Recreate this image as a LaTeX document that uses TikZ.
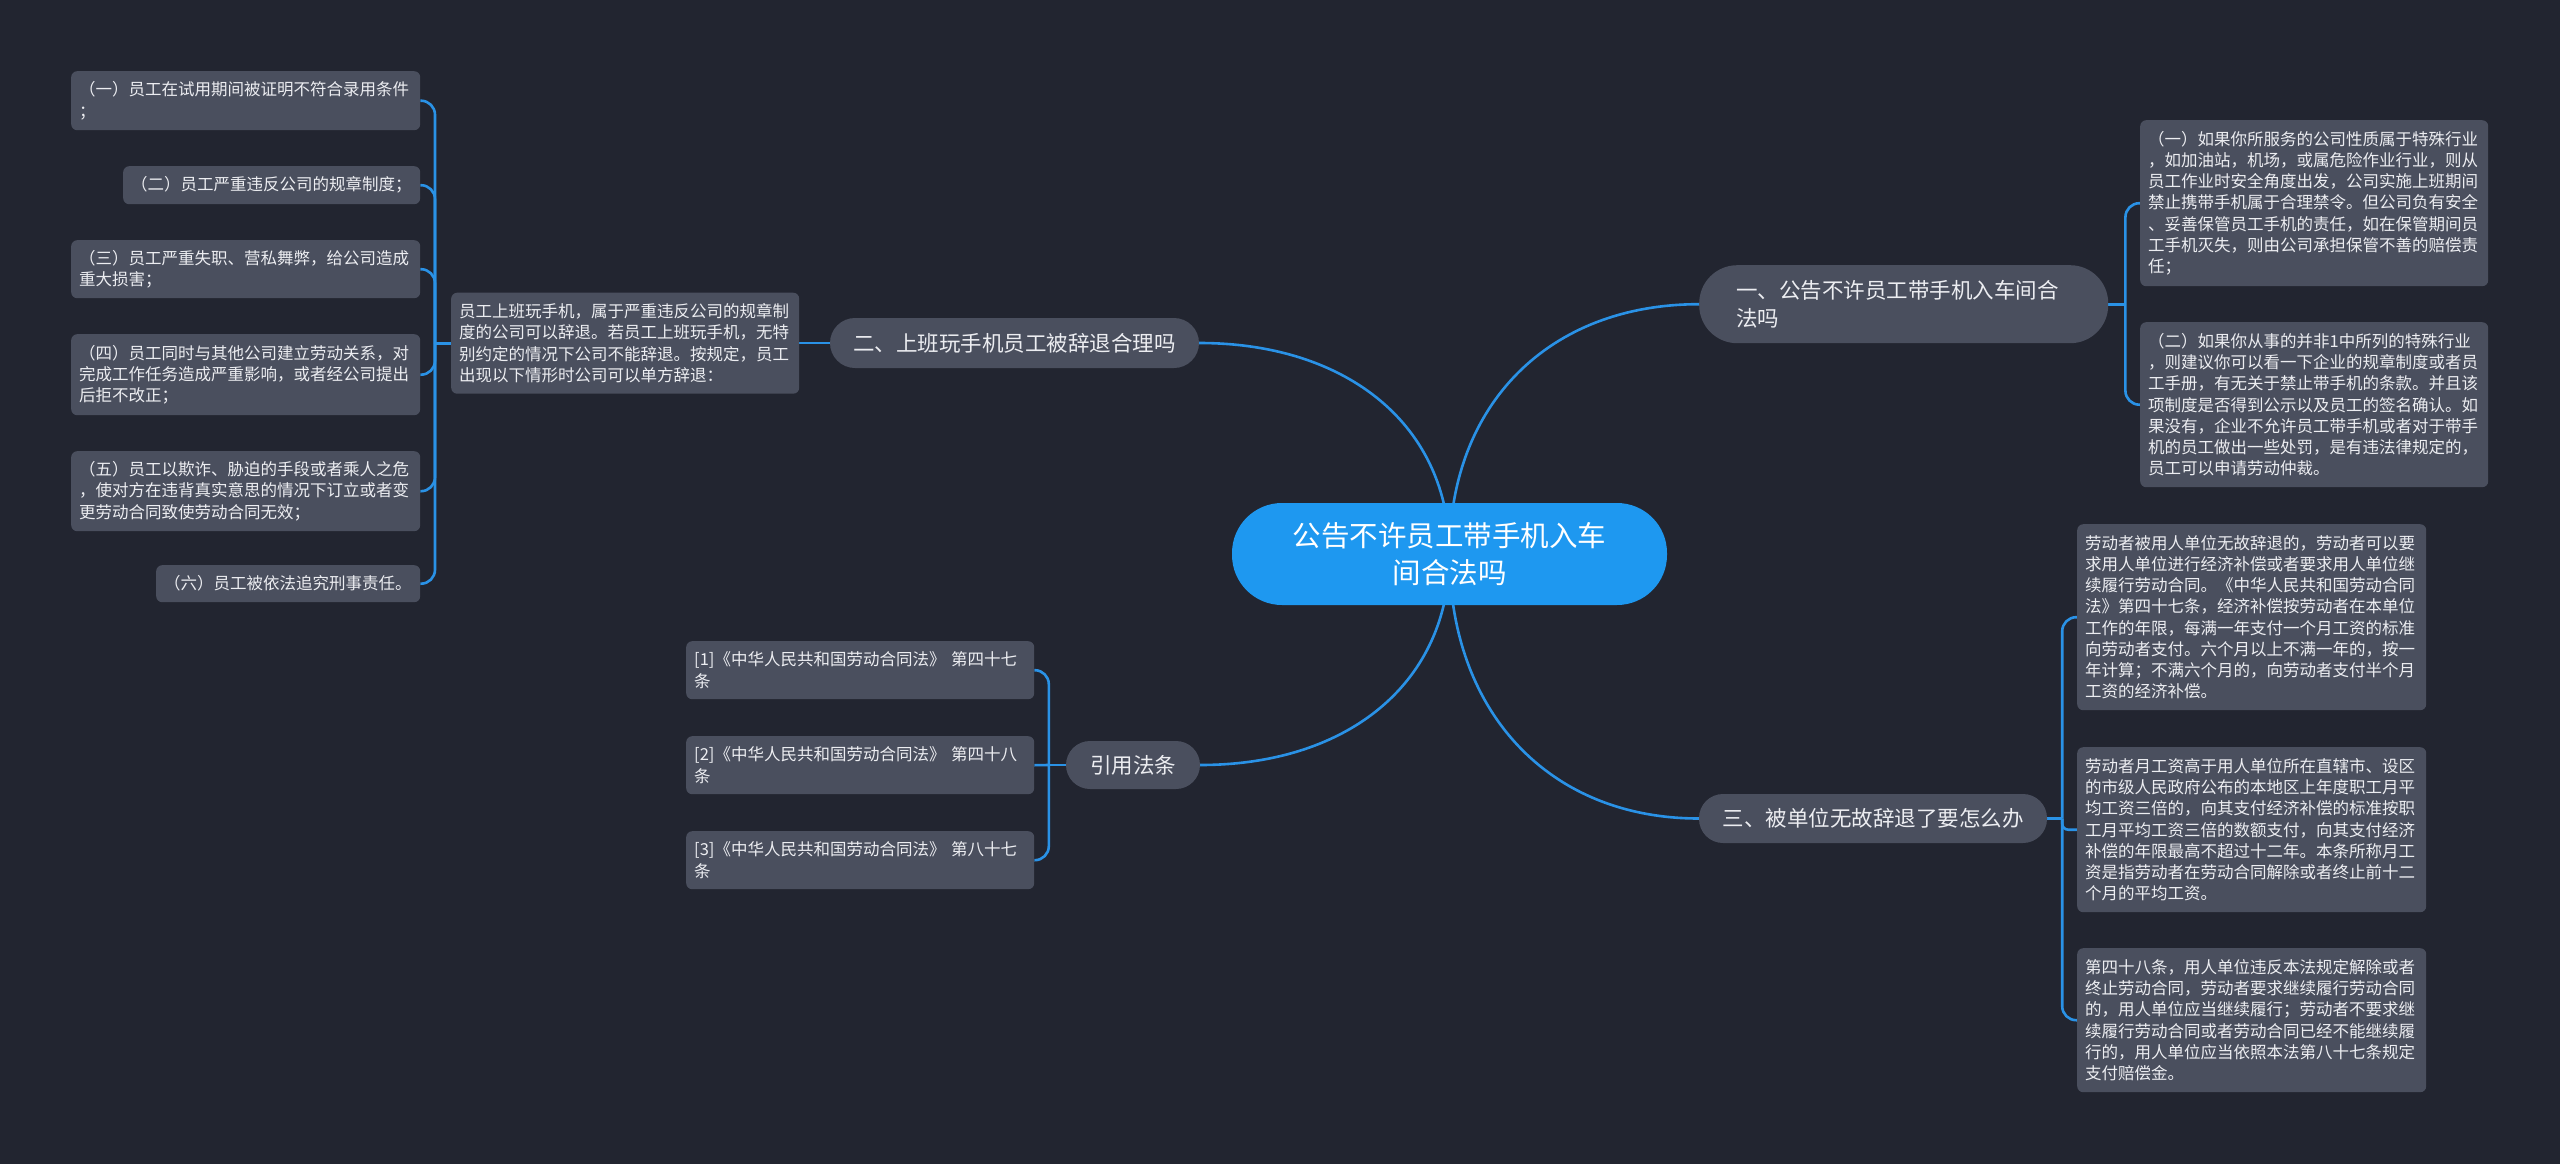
\documentclass[tikz,border=0pt]{standalone}
\usepackage{fontspec}
\setmainfont{Noto Sans CJK SC}
\usetikzlibrary{calc}
\pgfdeclarelayer{bglayer}
\pgfdeclarelayer{wirelayer}
\pgfsetlayers{bglayer,wirelayer,main}
\definecolor{bg}{RGB}{34,37,48}
\definecolor{nodegray}{RGB}{74,79,94}
\definecolor{hub}{RGB}{30,152,240}
\definecolor{wire}{RGB}{42,146,230}
\definecolor{txt}{RGB}{236,237,241}
\begin{document}
\begin{tikzpicture}[x=1pt,y=-1pt,
  wire/.style={draw=wire, line width=2.6pt},
  box/.style={fill=nodegray, text=txt, rounded corners=6pt, align=left, inner xsep=8pt, inner ysep=0pt, anchor=north west, font=\fontsize{16.5pt}{21.2pt}\selectfont},
  pill/.style={fill=nodegray, text=txt, inner sep=0pt, font=\fontsize{21.5pt}{28pt}\selectfont},
]
\begin{pgfonlayer}{bglayer}
\fill[bg] (0,0) rectangle (2560,1164);
\end{pgfonlayer}
\useasboundingbox (0,0) rectangle (2560,1164);

% central node
\node[fill=hub, text=white, rounded corners=50pt, minimum width=435pt, minimum height=102pt, inner sep=0pt, align=center, font=\fontsize{28.5pt}{37pt}\selectfont] (c) at (1449.5,554) {公告不许员工带手机入车\\间合法吗};

% branches
\node[pill, anchor=north west, text width=335pt, inner xsep=37pt, minimum height=78pt, rounded corners=38pt, align=left] (b1) at (1699,265) {一、公告不许员工带手机入车间合\\法吗};
\node[pill, minimum width=369pt, minimum height=50pt, rounded corners=25pt] (b2) at (1014.5,343) {二、上班玩手机员工被辞退合理吗};
\node[pill, minimum width=348pt, minimum height=49pt, rounded corners=24pt] (b3) at (1873,818.5) {三、被单位无故辞退了要怎么办};
\node[pill, minimum width=134pt, minimum height=48pt, rounded corners=24pt] (b4) at (1133,765) {引用法条};

% branch 2 children
\node[box, text width=332pt, minimum height=101pt] (t) at (451,292.5) {员工上班玩手机，属于严重违反公司的规章制\\度的公司可以辞退。若员工上班玩手机，无特\\别约定的情况下公司不能辞退。按规定，员工\\出现以下情形时公司可以单方辞退：};

\node[box, text width=333pt, minimum height=59pt] (l1) at (71,71) {（一）员工在试用期间被证明不符合录用条件\\；};
\node[box, text width=281pt, minimum height=38pt] (l2) at (123,166) {（二）员工严重违反公司的规章制度；};
\node[box, text width=333pt, minimum height=58pt] (l3) at (71,240) {（三）员工严重失职、营私舞弊，给公司造成\\重大损害；};
\node[box, text width=333pt, minimum height=81pt] (l4) at (71,334) {（四）员工同时与其他公司建立劳动关系，对\\完成工作任务造成严重影响，或者经公司提出\\后拒不改正；};
\node[box, text width=333pt, minimum height=80pt] (l5) at (71,451) {（五）员工以欺诈、胁迫的手段或者乘人之危\\，使对方在违背真实意思的情况下订立或者变\\更劳动合同致使劳动合同无效；};
\node[box, text width=248pt, minimum height=37pt] (l6) at (156,565) {（六）员工被依法追究刑事责任。};

% branch 1 children
\node[box, text width=332pt, minimum height=166pt] (r1) at (2140,120) {（一）如果你所服务的公司性质属于特殊行业\\，如加油站，机场，或属危险作业行业，则从\\员工作业时安全角度出发，公司实施上班期间\\禁止携带手机属于合理禁令。但公司负有安全\\、妥善保管员工手机的责任，如在保管期间员\\工手机灭失，则由公司承担保管不善的赔偿责\\任；};
\node[box, text width=332pt, minimum height=165pt] (r2) at (2140,322) {（二）如果你从事的并非1中所列的特殊行业\\，则建议你可以看一下企业的规章制度或者员\\工手册，有无关于禁止带手机的条款。并且该\\项制度是否得到公示以及员工的签名确认。如\\果没有，企业不允许员工带手机或者对于带手\\机的员工做出一些处罚，是有违法律规定的，\\员工可以申请劳动仲裁。};

% branch 3 children
\node[box, text width=333pt, minimum height=186pt] (s1) at (2077,524) {劳动者被用人单位无故辞退的，劳动者可以要\\求用人单位进行经济补偿或者要求用人单位继\\续履行劳动合同。《中华人民共和国劳动合同\\法》第四十七条，经济补偿按劳动者在本单位\\工作的年限，每满一年支付一个月工资的标准\\向劳动者支付。六个月以上不满一年的，按一\\年计算；不满六个月的，向劳动者支付半个月\\工资的经济补偿。};
\node[box, text width=333pt, minimum height=165pt] (s2) at (2077,747) {劳动者月工资高于用人单位所在直辖市、设区\\的市级人民政府公布的本地区上年度职工月平\\均工资三倍的，向其支付经济补偿的标准按职\\工月平均工资三倍的数额支付，向其支付经济\\补偿的年限最高不超过十二年。本条所称月工\\资是指劳动者在劳动合同解除或者终止前十二\\个月的平均工资。};
\node[box, text width=333pt, minimum height=144pt] (s3) at (2077,948) {第四十八条，用人单位违反本法规定解除或者\\终止劳动合同，劳动者要求继续履行劳动合同\\的，用人单位应当继续履行；劳动者不要求继\\续履行劳动合同或者劳动合同已经不能继续履\\行的，用人单位应当依照本法第八十七条规定\\支付赔偿金。};

% branch 4 children
\node[box, text width=332pt, minimum height=58pt] (c1) at (686,641) {[1]《中华人民共和国劳动合同法》 第四十七\\条};
\node[box, text width=332pt, minimum height=58pt] (c2) at (686,736) {[2]《中华人民共和国劳动合同法》 第四十八\\条};
\node[box, text width=332pt, minimum height=58pt] (c3) at (686,831) {[3]《中华人民共和国劳动合同法》 第八十七\\条};

\begin{pgfonlayer}{wirelayer}
% center to branches
\draw[wire] (c.center) .. controls ($(c.center)+(0,-150)$) and ($(b1.west)+(-150,0)$) .. (b1.west);
\draw[wire] (c.center) .. controls ($(c.center)+(0,-127)$) and ($(b2.east)+(150,0)$) .. (b2.east);
\draw[wire] (c.center) .. controls ($(c.center)+(0,158)$) and ($(b3.west)+(-150,0)$) .. (b3.west);
\draw[wire] (c.center) .. controls ($(c.center)+(0,127)$) and ($(b4.east)+(150,0)$) .. (b4.east);

% branch 1 bracket
\coordinate (j1) at ($(b1.east)+(17,0)$);
\draw[wire] (b1.east) -- (j1);
\draw[wire, rounded corners=14pt] (j1) |- (r1.west);
\draw[wire, rounded corners=14pt] (j1) |- (r2.west);

% branch 3 bracket
\coordinate (j3) at ($(b3.east)+(15,0)$);
\draw[wire] (b3.east) -- (j3);
\draw[wire, rounded corners=14pt] (j3) |- (s1.west);
\draw[wire, rounded corners=6pt] (j3) |- (s2.west);
\draw[wire, rounded corners=14pt] (j3) |- (s3.west);

% branch 2 to text, text bracket
\draw[wire] (b2.west) -- (b2.west -| t.east);
\coordinate (jt) at ($(t.west)+(-16,0)$);
\draw[wire] (t.west) -- (jt);
\foreach \n in {l1,l2,l3,l4,l5,l6}{
  \draw[wire, rounded corners=14pt] (jt) |- (\n.east);
}

% branch 4 bracket
\coordinate (j4) at ($(b4.west)+(-17,0)$);
\draw[wire] (b4.west) -- (j4);
\draw[wire, rounded corners=14pt] (j4) |- (c1.east);
\draw[wire] (j4) -- (c2.east);
\draw[wire, rounded corners=14pt] (j4) |- (c3.east);
\end{pgfonlayer}
\end{tikzpicture}
\end{document}
